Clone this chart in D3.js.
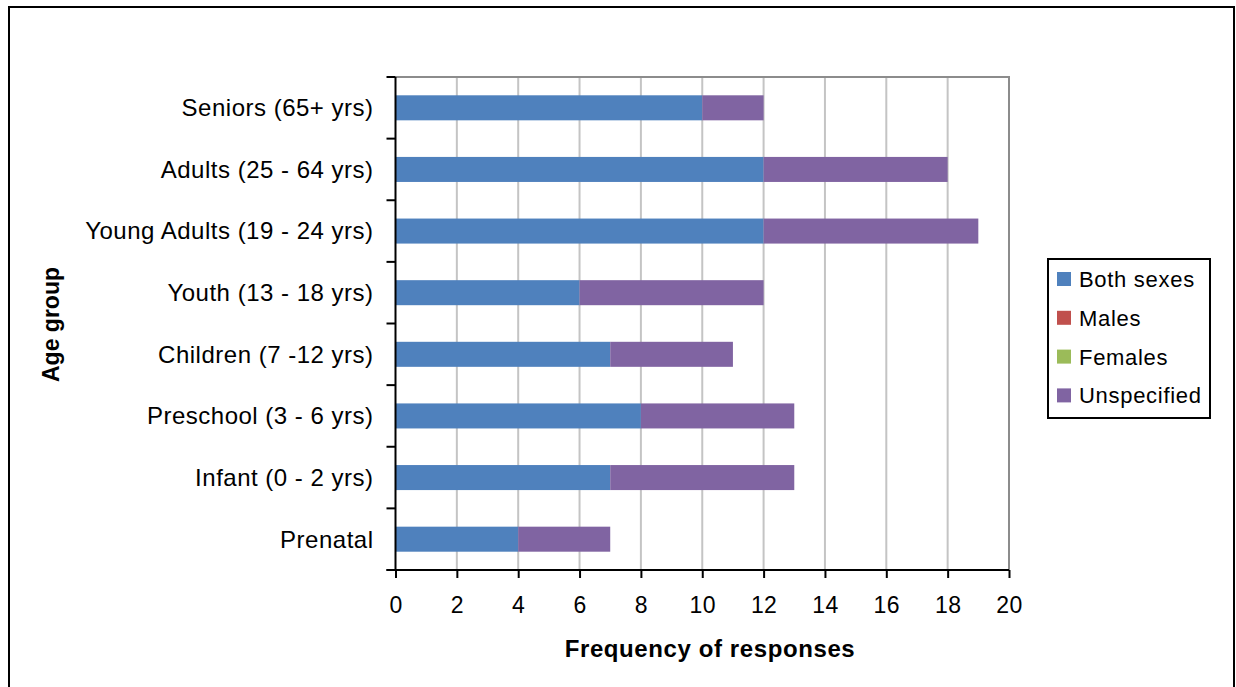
<!DOCTYPE html>
<html>
<head>
<meta charset="utf-8">
<script src="https://cdn.jsdelivr.net/npm/d3@7"></script>
<style>
  html, body { margin: 0; padding: 0; background: #fff; }
  svg { display: block; font-family: Arial, "Liberation Sans", sans-serif; }
</style>
</head>
<body>
<svg id="chart" width="1236" height="687"></svg>
<script>
// Age groups, drawn top to bottom
const categories = [
  "Seniors (65+ yrs)",
  "Adults (25 - 64 yrs)",
  "Young Adults (19 - 24 yrs)",
  "Youth (13 - 18 yrs)",
  "Children (7 -12 yrs)",
  "Preschool (3 - 6 yrs)",
  "Infant (0 - 2 yrs)",
  "Prenatal"
];
const seriesNames = ["Both sexes", "Males", "Females", "Unspecified"];
const bothSexes   = [10, 12, 12, 6, 7, 8, 7, 4];
const males       = [0, 0, 0, 0, 0, 0, 0, 0];
const females     = [0, 0, 0, 0, 0, 0, 0, 0];
const unspecified = [2, 6, 7, 6, 4, 5, 6, 3];
const xTicks = [0, 2, 4, 6, 8, 10, 12, 14, 16, 18, 20];
const colors = ["#4f81bd", "#c0504d", "#9bbb59", "#8064a2"];

const seriesValues = [bothSexes, males, females, unspecified];
const rows = categories.map((c, i) => {
  const r = { category: c };
  seriesNames.forEach((s, k) => { r[s] = seriesValues[k][i]; });
  return r;
});
const stacked = d3.stack().keys(seriesNames)(rows);

const svg = d3.select("#chart");

// outer frame
svg.append("rect")
  .attr("x", 9).attr("y", 7).attr("width", 1225).attr("height", 690)
  .attr("fill", "#fff").attr("stroke", "#000").attr("stroke-width", 2);

const plot = { left: 395.5, right: 1009, top: 77, bottom: 570 };

const x = d3.scaleLinear().domain([0, 20]).range([plot.left, plot.right]);
const y = d3.scaleBand().domain(categories).range([plot.top, plot.bottom]).padding(0);
const barH = y.bandwidth() * 0.406;

// vertical gridlines
svg.append("g").selectAll("line")
  .data(xTicks.filter(t => t > 0 && t < 20))
  .join("line")
  .attr("x1", d => x(d)).attr("x2", d => x(d))
  .attr("y1", plot.top).attr("y2", plot.bottom)
  .attr("stroke", "#c4c4c4").attr("stroke-width", 2);

// plot frame (top and right)
svg.append("path")
  .attr("d", `M${plot.left},${plot.top}H${plot.right}V${plot.bottom}`)
  .attr("fill", "none").attr("stroke", "#8c8c8c").attr("stroke-width", 2);

// stacked bars
svg.append("g").selectAll("g")
  .data(stacked)
  .join("g")
  .attr("fill", (d, i) => colors[i])
  .selectAll("rect")
  .data(d => d.filter(p => p[1] > p[0]))
  .join("rect")
  .attr("x", d => x(d[0]))
  .attr("width", d => x(d[1]) - x(d[0]))
  .attr("y", d => y(d.data.category) + (y.bandwidth() - barH) / 2)
  .attr("height", barH);

// x axis
const xAxis = svg.append("g")
  .attr("transform", `translate(0,${plot.bottom})`)
  .call(d3.axisBottom(x).tickValues(xTicks).tickSize(8).tickPadding(19).tickSizeOuter(0));
xAxis.select(".domain").attr("stroke", "#000").attr("stroke-width", 2)
  .attr("d", `M${plot.left - 9},0H${plot.right}`);
xAxis.selectAll(".tick line").attr("stroke", "#000").attr("stroke-width", 2);
xAxis.selectAll(".tick text")
  .attr("fill", "#000")
  .style("font-size", "23px")
  .style("letter-spacing", "0.4px")
  .style("font-family", "Arial, 'Liberation Sans', sans-serif");

// y axis: ticks at band boundaries
const boundaries = d3.range(categories.length + 1).map(i => plot.top + i * y.step());
const yAxisG = svg.append("g");
yAxisG.append("line")
  .attr("x1", plot.left).attr("x2", plot.left)
  .attr("y1", plot.top).attr("y2", plot.bottom)
  .attr("stroke", "#000").attr("stroke-width", 2);
yAxisG.selectAll("line.tk")
  .data(boundaries)
  .join("line").attr("class", "tk")
  .attr("x1", plot.left - 9).attr("x2", plot.left)
  .attr("y1", d => d).attr("y2", d => d)
  .attr("stroke", "#000").attr("stroke-width", 2);
yAxisG.selectAll("text")
  .data(categories)
  .join("text")
  .attr("x", plot.left - 22)
  .attr("y", d => y(d) + y.bandwidth() / 2)
  .attr("dy", "0.35em")
  .attr("text-anchor", "end")
  .style("font-size", "24px")
  .style("letter-spacing", "0.5px")
  .attr("fill", "#000")
  .text(d => d);

// axis titles
svg.append("text")
  .attr("x", 710)
  .attr("y", 657)
  .attr("text-anchor", "middle")
  .style("font-size", "24px")
  .style("font-weight", "bold")
  .style("letter-spacing", "0.6px")
  .text("Frequency of responses");

svg.append("text")
  .attr("transform", "translate(59,324.5) rotate(-90)")
  .attr("text-anchor", "middle")
  .style("font-size", "23px")
  .style("font-weight", "bold")
  .text("Age group");

// legend
const legend = svg.append("g").attr("transform", "translate(1048,259)");
legend.append("rect")
  .attr("width", 162).attr("height", 159)
  .attr("fill", "#fff").attr("stroke", "#000").attr("stroke-width", 2);
const item = legend.selectAll("g.item")
  .data(seriesNames)
  .join("g").attr("class", "item")
  .attr("transform", (d, i) => `translate(9,${13 + i * 38.8})`);
item.append("rect")
  .attr("width", 14).attr("height", 14)
  .attr("fill", (d, i) => colors[i]);
item.append("text")
  .attr("x", 22).attr("y", 7).attr("dy", "0.36em")
  .style("font-size", "22px")
  .style("letter-spacing", "0.7px")
  .text(d => d);
</script>
</body>
</html>
